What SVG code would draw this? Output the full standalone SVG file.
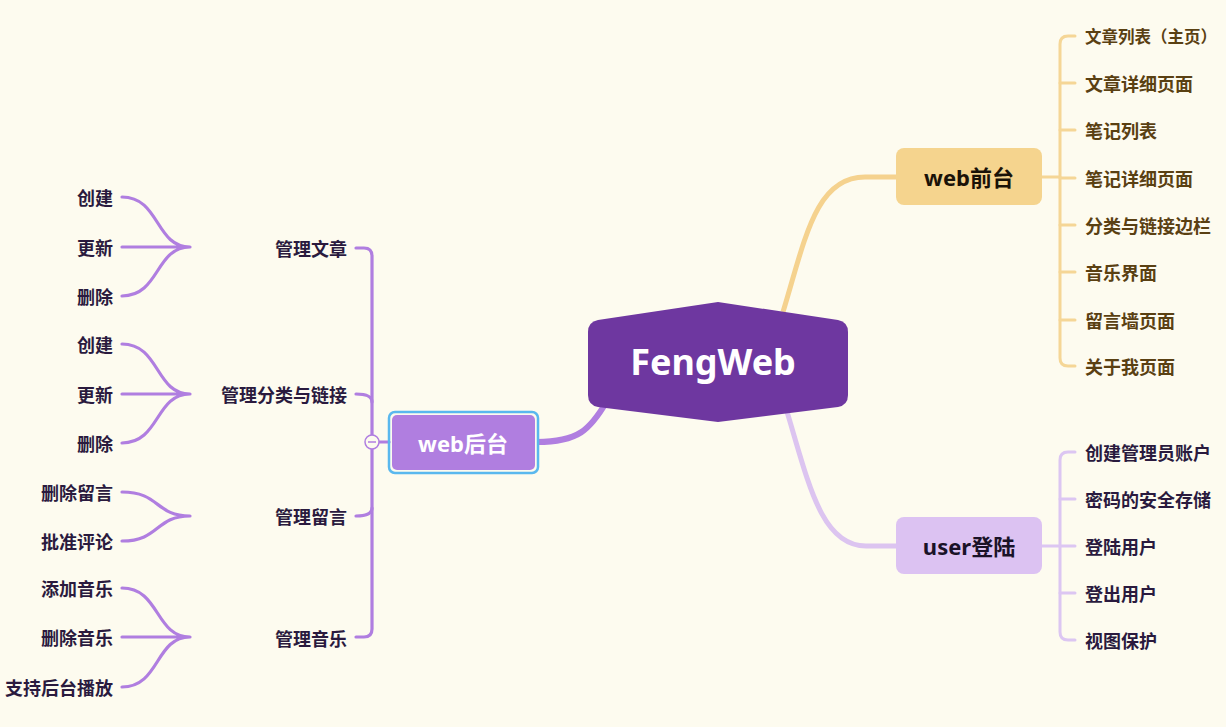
<svg xmlns="http://www.w3.org/2000/svg" width="1226" height="727" viewBox="0 0 1226 727">
<style>
.t{font-family:"Noto Sans CJK SC","Noto Sans",sans-serif;font-size:18px;font-weight:bold;dominant-baseline:central}
.l{fill:#2a1a3e;text-anchor:end}
.ro{fill:#5a4012}
.rp{fill:#2a1a3e}
.nt{font-family:"Noto Sans","Noto Sans CJK SC",sans-serif;font-weight:bold;text-anchor:middle;dominant-baseline:central}
.cp{fill:none;stroke:#b07ee0;stroke-width:3.2;stroke-linecap:round}
.co{fill:none;stroke:#f5d696;stroke-width:3;stroke-linecap:round}
.cl{fill:none;stroke:#dcc6f2;stroke-width:3;stroke-linecap:round}
</style>
<rect width="1226" height="727" fill="#fdfbef"/>
<g id="connectors">
<path d="M783,312 C805,240 815,177 865,177 L896,177" fill="none" stroke="#f5d28e" stroke-width="5"/>
<path d="M785,405 C808,480 820,546 866,546 L896,546" fill="none" stroke="#dcc4f0" stroke-width="5"/>
<path d="M607,401 C590,430 578,442 537,442" fill="none" stroke="#b07ee0" stroke-width="6"/>
<path class="co" d="M1042,177 L1060,177"/>
<path class="co" d="M1075,36 L1068,36 Q1060,36 1060,44 L1060,358 Q1060,366 1068,366 L1075,366"/>
<path class="co" d="M1060,83 L1075,83 M1060,130 L1075,130 M1060,178 L1075,178 M1060,225 L1075,225 M1060,272 L1075,272 M1060,320 L1075,320"/>
<path class="cl" d="M1042,546 L1060,546"/>
<path class="cl" d="M1075,452 L1068,452 Q1060,452 1060,460 L1060,632 Q1060,640 1068,640 L1075,640"/>
<path class="cl" d="M1060,499 L1075,499 M1060,546 L1075,546 M1060,593 L1075,593"/>
<path class="cp" d="M356,248 L364,248 Q372,248 372,256 L372,629 Q372,637 364,637 L356,637"/>
<path class="cp" d="M356,394 Q372,394 372,402 M356,516 Q372,516 372,508"/>
<path class="cp" d="M379,442 L389,442"/>
<path class="cp" d="M122,197 C160,197 155,247 190,247 M122,247 L190,247 M122,296 C160,296 155,247 190,247"/>
<path class="cp" d="M122,344 C160,344 155,394 190,394 M122,394 L190,394 M122,443 C160,443 155,394 190,394"/>
<path class="cp" d="M122,492 C160,492 155,516 190,516 M122,541 C160,541 155,516 190,516"/>
<path class="cp" d="M122,588 C160,588 155,637 190,637 M122,637 L190,637 M122,687 C160,687 155,637 190,637"/>
</g>
<g id="center">
<path d="M718,302 L838,320 Q848,322 848,332 L848,395 Q848,405 838,407 L718,422 L598,407 Q588,405 588,395 L588,332 Q588,322 598,320 Z" fill="#6e37a0"/>
<text class="nt" x="713" y="361" font-size="36" fill="#ffffff">FengWeb</text>
</g>
<g id="web-front">
<rect x="896" y="148" width="146" height="57" rx="8" fill="#f5d48e"/>
<text class="nt" x="969" y="177" font-size="22" fill="#1a1208">web前台</text>
</g>
<g id="user-login">
<rect x="896" y="517" width="146" height="57" rx="8" fill="#dcc2f2"/>
<text class="nt" x="969" y="546" font-size="22" fill="#1a1228">user登陆</text>
</g>
<g id="web-back">
<rect x="389" y="412" width="149" height="61" rx="6" fill="none" stroke="#5ab8ee" stroke-width="2.5"/>
<rect x="392" y="415" width="143" height="55" rx="5" fill="#b07ee0"/>
<text class="nt" x="463" y="443" font-size="22" fill="#ffffff">web后台</text>
</g>
<g id="collapse">
<circle cx="372" cy="442" r="7" fill="#fdfbef" stroke="#b07ee0" stroke-width="1.5"/>
<path d="M368,442 L376,442" stroke="#b07ee0" stroke-width="1.5"/>
</g>
<g id="front-children">
<text class="t ro" x="1085" y="36" style="font-size:16.5px">文章列表（主页）</text>
<text class="t ro" x="1085" y="83">文章详细页面</text>
<text class="t ro" x="1085" y="130">笔记列表</text>
<text class="t ro" x="1085" y="178">笔记详细页面</text>
<text class="t ro" x="1085" y="225">分类与链接边栏</text>
<text class="t ro" x="1085" y="272">音乐界面</text>
<text class="t ro" x="1085" y="320">留言墙页面</text>
<text class="t ro" x="1085" y="366">关于我页面</text>
</g>
<g id="login-children">
<text class="t rp" x="1085" y="452">创建管理员账户</text>
<text class="t rp" x="1085" y="499">密码的安全存储</text>
<text class="t rp" x="1085" y="546">登陆用户</text>
<text class="t rp" x="1085" y="593">登出用户</text>
<text class="t rp" x="1085" y="640">视图保护</text>
</g>
<g id="back-children">
<text class="t l" x="347" y="248">管理文章</text>
<text class="t l" x="347" y="394">管理分类与链接</text>
<text class="t l" x="347" y="516">管理留言</text>
<text class="t l" x="347" y="638">管理音乐</text>
</g>
<g id="back-grandchildren">
<text class="t l" x="113" y="197">创建</text>
<text class="t l" x="113" y="247">更新</text>
<text class="t l" x="113" y="296">删除</text>
<text class="t l" x="113" y="344">创建</text>
<text class="t l" x="113" y="394">更新</text>
<text class="t l" x="113" y="443">删除</text>
<text class="t l" x="113" y="492">删除留言</text>
<text class="t l" x="113" y="541">批准评论</text>
<text class="t l" x="113" y="588">添加音乐</text>
<text class="t l" x="113" y="637">删除音乐</text>
<text class="t l" x="113" y="687">支持后台播放</text>
</g>
</svg>
